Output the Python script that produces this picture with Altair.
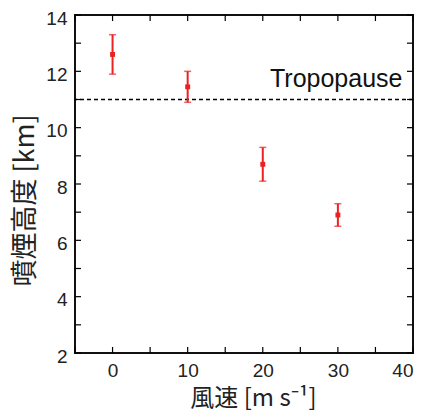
import altair as alt
import pandas as pd

# data
wind = [0, 10, 20, 30]
height = [12.6, 11.45, 8.7, 6.9]
err = [0.7, 0.55, 0.6, 0.4]
tropopause = 11.0
x_minor = [-5, 0, 5, 10, 15, 20, 25, 30, 35, 40]
y_minor = [2, 3, 4, 5, 6, 7, 8, 9, 10, 11, 12, 13, 14]
x_labels = [0, 10, 20, 30, 40]
y_labels = [2, 4, 6, 8, 10, 12, 14]

df = pd.DataFrame({"x": wind, "y": height,
                   "lo": [h - e for h, e in zip(height, err)],
                   "hi": [h + e for h, e in zip(height, err)]})
xt = pd.DataFrame({"x": x_minor})
yt = pd.DataFrame({"y": y_minor})

W, H = 338, 338
RED = "#ee2020"
LAB = "Liberation Sans"
CJK = "Noto Sans CJK JP"

xs = alt.Scale(domain=[-5, 40], nice=False, zero=False)
ys = alt.Scale(domain=[2, 14], nice=False, zero=False)

xaxis = alt.Axis(values=x_labels, ticks=False, domain=False, grid=False,
                 labelFont=LAB, labelFontSize=19, labelColor="#222",
                 labelPadding=8, title="風速 [m s⁻¹]", titleFont=CJK,
                 titleFontSize=24, titleFontWeight="normal", titleColor="#222",
                 titleX=178, titleY=52, titleBaseline="alphabetic",
                 titleAlign="center")
yaxis = alt.Axis(values=y_labels, ticks=False, domain=False, grid=False,
                 labelFont=LAB, labelFontSize=19, labelColor="#222",
                 labelPadding=8, labelOffset=3, title="噴煙高度 [km]", titleFont=CJK,
                 titleFontSize=27, titleFontWeight="normal", titleColor="#222",
                 titleX=-36, titleY=185, titleBaseline="bottom",
                 titleAlign="center")

base = alt.Chart(df)

points = base.mark_square(size=24, color=RED, opacity=1).encode(
    x=alt.X("x:Q", scale=xs, axis=xaxis),
    y=alt.Y("y:Q", scale=ys, axis=yaxis))
bars = base.mark_rule(color=RED, strokeWidth=2).encode(
    x="x:Q", y="lo:Q", y2="hi:Q")
cap_lo = base.mark_tick(color=RED, orient="horizontal", size=7, thickness=1.5).encode(
    x="x:Q", y="lo:Q")
cap_hi = base.mark_tick(color=RED, orient="horizontal", size=7, thickness=1.5).encode(
    x="x:Q", y="hi:Q")

trop = alt.Chart(pd.DataFrame({"y": [tropopause]})).mark_rule(
    color="black", strokeDash=[4, 3], strokeWidth=1.3).encode(y="y:Q")
trop_text = alt.Chart(pd.DataFrame({"x": [38.6], "y": [tropopause],
                                    "t": ["Tropopause"]})).mark_text(
    font=LAB, fontSize=25, color="#111", align="right",
    baseline="alphabetic", dy=-13).encode(x="x:Q", y="y:Q", text="t:N")

TL = 6
xb = alt.Chart(xt).mark_rule(color="black", strokeWidth=1.2).encode(
    x="x:Q", y=alt.value(H), y2=alt.value(H - TL))
xtp = alt.Chart(xt).mark_rule(color="black", strokeWidth=1.2).encode(
    x="x:Q", y=alt.value(0), y2=alt.value(TL))
yl = alt.Chart(yt).mark_rule(color="black", strokeWidth=1.2).encode(
    y="y:Q", x=alt.value(0), x2=alt.value(TL))
yr = alt.Chart(yt).mark_rule(color="black", strokeWidth=1.2).encode(
    y="y:Q", x=alt.value(W), x2=alt.value(W - TL))

chart = alt.layer(points, trop, bars, cap_lo, cap_hi, trop_text, xb, xtp, yl, yr).properties(
    width=W, height=H,
    autosize=alt.AutoSizeParams(type="none"),
    padding={"left": 67, "top": 7, "right": 6, "bottom": 59},
).configure_view(stroke="#111", strokeWidth=2)

chart.save("out.html", embed_options={"renderer": "svg", "actions": False})
